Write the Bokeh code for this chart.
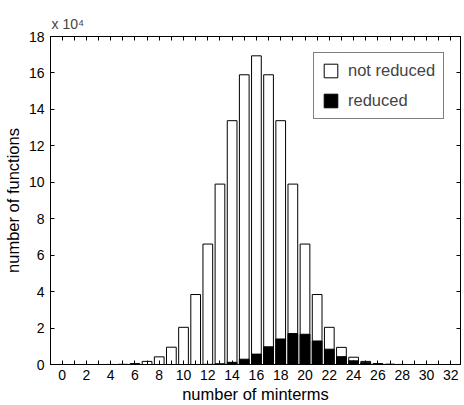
from bokeh.plotting import figure
from bokeh.models import (Range1d, LinearAxis, FixedTicker, Legend,
                          LegendItem, ColumnDataSource, CustomLabelingPolicy)
from bokeh.embed import file_html
from bokeh.resources import INLINE

# number of minterms
minterms = list(range(33))
# number of functions (counts)
not_reduced = [0, 0, 0, 0, 30, 100, 500, 1700, 4200, 9500, 20400, 38400, 66100,
               99000, 133800, 159000, 169400, 159000, 133800, 99000, 66100,
               38400, 20400, 9400, 4000, 1700, 500, 100, 30, 0, 0, 0, 0]
reduced = [0, 0, 0, 0, 0, 0, 0, 0, 0, 0, 0, 0, 100,
           400, 1200, 2900, 5700, 9700, 14000, 17000, 16600,
           12900, 8400, 4300, 2000, 1000, 300, 100, 0, 0, 0, 0, 0]
y_ticks = list(range(0, 19, 2))
scale = 1e4

FONT = "Liberation Sans"

src = ColumnDataSource(dict(
    x=minterms,
    total=[v / scale for v in not_reduced],
    red=[v / scale for v in reduced],
))

p = figure(width=464, height=405, x_range=Range1d(-0.95, 32.8),
           y_range=Range1d(0, 18), output_backend="svg",
           toolbar_location=None, min_border_left=50, min_border_right=1,
           min_border_top=36, min_border_bottom=41, x_axis_type=None,
           y_axis_type=None)
p.outline_line_color = "black"
p.outline_line_width = 1

p.title.text = "x 10\u2074"
p.title.align = "left"
p.title.offset = 1
p.title.standoff = 1
p.title.text_font = FONT
p.title.text_font_size = "14px"
p.title.text_font_style = "normal"

xt = FixedTicker(ticks=minterms, minor_ticks=[])
yt = FixedTicker(ticks=y_ticks, minor_ticks=[])

no_labels = CustomLabelingPolicy(
    code="return new indices.constructor(indices.size)")
even_labels = CustomLabelingPolicy(code="""
const result = new indices.constructor(indices.size)
for (const i of indices) {
  if (i % 2 == 0) result.set(i)
}
return result
""")


def style(ax):
    ax.axis_line_color = "black"
    ax.major_tick_line_color = "black"
    ax.major_tick_in = 4
    ax.major_tick_out = 0
    ax.minor_tick_in = 0
    ax.minor_tick_out = 0
    ax.major_label_text_font = FONT
    ax.major_label_text_font_size = "14px"
    ax.major_label_text_color = "black"
    ax.axis_label_text_font = FONT
    ax.axis_label_text_font_size = "16.5px"
    ax.axis_label_text_font_style = "normal"
    ax.axis_label_text_color = "black"


bottom = LinearAxis(ticker=xt, axis_label="number of minterms",
                    major_label_policy=even_labels)
style(bottom)
bottom.major_label_standoff = 5
bottom.axis_label_standoff = 2
p.add_layout(bottom, "below")

top = LinearAxis(ticker=xt, major_label_policy=no_labels)
style(top)
top.major_label_standoff = 0
top.major_label_text_font_size = "1px"
p.add_layout(top, "above")

left = LinearAxis(ticker=yt, axis_label="number of functions")
style(left)
left.major_label_standoff = 6
left.axis_label_standoff = 4
p.add_layout(left, "left")

right = LinearAxis(ticker=yt, major_label_policy=no_labels)
style(right)
right.major_label_standoff = 0
right.major_label_text_font_size = "1px"
p.add_layout(right, "right")

p.xgrid.visible = False
p.ygrid.ticker = FixedTicker(ticks=y_ticks[1:-1], minor_ticks=[])
p.ygrid.grid_line_color = "#666666"
p.ygrid.grid_line_dash = "1 3"
p.ygrid.grid_line_width = 1

r1 = p.vbar(x="x", top="total", width=0.8, source=src, fill_color="white",
            line_color="black", line_width=1)
r2 = p.vbar(x="x", top="red", width=0.8, source=src, fill_color="black",
            line_color="black", line_width=1)

legend = Legend(items=[LegendItem(label="not reduced", renderers=[r1]),
                       LegendItem(label="reduced", renderers=[r2])],
                location=(263, 245))
legend.border_line_color = "black"
legend.border_line_width = 1
legend.background_fill_color = "white"
legend.background_fill_alpha = 1
legend.label_text_font = FONT
legend.label_text_font_size = "16.5px"
legend.glyph_width = 17
legend.glyph_height = 17
legend.label_height = 17
legend.label_standoff = 9
legend.spacing = 11
legend.padding = 8
legend.margin = 0
p.add_layout(legend, "center")

open("out.html", "w").write(file_html(p, INLINE))
